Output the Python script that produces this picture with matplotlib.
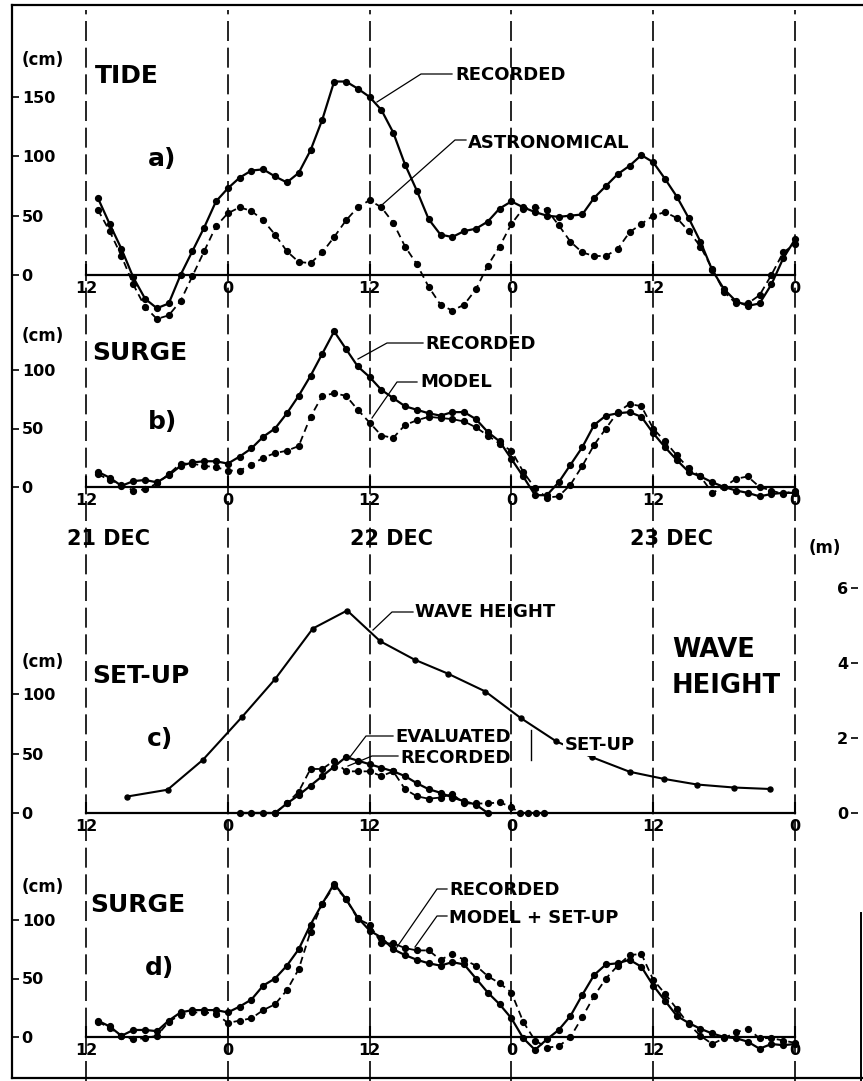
import matplotlib
matplotlib.use('Agg')
import matplotlib.pyplot as plt

plt.rcParams['font.family'] = ['DejaVu Sans']
plt.rcParams['font.weight'] = 'bold'

W, H, DPI = 863, 1081, 100

# ---------------- data (time in hours from 21 Dec 12h) ----------------
hours = list(range(1, 61))
day_ticks = [0, 12, 24, 36, 48, 60]
day_tick_labels = ['12', '0', '12', '0', '12', '0']

tide_recorded = [65, 43, 22, -2, -20, -28, -24, 0, 20, 40,
                 62, 73, 82, 88, 89, 83, 78, 86, 105, 131,
                 163, 163, 157, 150, 139, 120, 93, 71, 47, 34,
                 32, 37, 39, 45, 56, 62, 57, 53, 50, 49,
                 50, 51, 65, 75, 85, 92, 101, 95, 81, 66,
                 48, 28, 4, -12, -22, -26, -24, -8, 14, 30]
tide_astronomical = [55, 37, 16, -8, -27, -37, -34, -22, -1, 20,
                     41, 52, 57, 54, 46, 34, 20, 11, 10, 19,
                     32, 46, 57, 63, 57, 44, 24, 9, -10, -25,
                     -30, -25, -12, 8, 24, 43, 56, 57, 55, 42,
                     28, 19, 16, 16, 22, 36, 43, 50, 53, 48,
                     37, 24, 5, -14, -24, -24, -17, 0, 19, 26]

surge_recorded_b = [13, 8, 1, 5, 6, 4, 10, 18, 21, 22,
                    22, 20, 26, 33, 43, 50, 63, 78, 95, 114,
                    133, 118, 103, 94, 83, 76, 69, 66, 63, 61,
                    64, 64, 58, 47, 39, 24, 9, -7, -7, 4,
                    19, 34, 53, 61, 63, 64, 60, 46, 34, 23,
                    13, 9, 4, 0, -3, -5, -8, -6, -5, -5]
surge_model_b = [11, 6, 2, -3, -2, 3, 11, 20, 20, 18,
                 17, 14, 14, 19, 25, 29, 31, 35, 60, 78,
                 80, 78, 66, 55, 44, 42, 53, 57, 60, 59,
                 58, 56, 51, 44, 37, 31, 13, -1, -9, -8,
                 2, 18, 36, 50, 64, 71, 69, 50, 39, 27,
                 16, 9, -5, 0, 7, 9, 0, -3, -6, -3]

wave_time = [3.5, 6.9, 9.9, 13.2, 16.0, 19.2, 22.1, 24.9, 27.8, 30.6,
             33.8, 36.8, 39.8, 42.8, 46.0, 48.9, 51.7, 54.8, 57.9]
wave_height_m = [0.44, 0.62, 1.42, 2.56, 3.57, 4.92, 5.40, 4.58, 4.09, 3.72,
                 3.24, 2.53, 1.91, 1.49, 1.10, 0.91, 0.76, 0.68, 0.64]

setup_eval_time = list(range(13, 35))
setup_evaluated = [0, 0, 0, 0, 8, 15, 23, 31, 39, 47,
                   44, 41, 38, 35, 31, 25, 20, 17, 13, 10, 7, 0]
setup_rec_time = [16, 17, 18, 19, 20, 21, 22, 23, 24, 25, 26, 27, 28, 29,
                  30, 31, 32, 33, 34, 35, 36, 36.7, 37.4, 38.1, 38.8]
setup_recorded = [0, 8, 18, 37, 37, 44, 35, 35, 35, 31, 35, 20, 14, 12,
                  13, 16, 8, 8, 8, 9, 5, 0, 0, 0, 0]

surge_recorded_d = [14, 9, 1, 6, 6, 5, 14, 21, 23, 23,
                    23, 21, 26, 32, 44, 50, 61, 75, 96, 114,
                    131, 118, 102, 91, 85, 75, 70, 66, 63, 61,
                    64, 62, 50, 38, 28, 16, -1, -11, -2, 6,
                    18, 36, 53, 62, 63, 66, 60, 44, 31, 18,
                    12, 7, 3, 0, -1, -4, -10, -6, -7, -6]
surge_model_setup_d = [13, 8, 1, -2, -1, 1, 13, 19, 21, 21,
                       20, 12, 14, 16, 23, 28, 40, 58, 90, 114,
                       129, 118, 101, 96, 80, 80, 76, 74, 74, 66,
                       71, 66, 61, 52, 46, 38, 13, -3, -9, -8,
                       0, 17, 35, 50, 61, 70, 71, 49, 37, 24,
                       11, 1, -6, -1, 4, 7, -1, -1, -3, -5]

# ---------------- geometry ----------------
T0_PX = 86.0
PX_PER_H = (795.0 - 86.0) / 60.0
LEFT_PX, RIGHT_PX = 12.0, 858.0


def t_at(px):
    return (px - T0_PX) / PX_PER_H


fig = plt.figure(figsize=(W / DPI, H / DPI), dpi=DPI)

# pixel-space background (frame, leaders)
bg = fig.add_axes([0, 0, 1, 1])
bg.set_xlim(0, W)
bg.set_ylim(H, 0)
bg.axis('off')
bg.patch.set_visible(False)
K = 'black'
bg.plot([12, 12], [5, 1078], color=K, lw=1.6)
bg.plot([12, 863], [5, 5], color=K, lw=1.6)
bg.plot([12, 863], [1078, 1078], color=K, lw=1.6)
bg.plot([861, 861], [913, 1081], color=K, lw=1.4)

# time-space background (day/half-day dashed lines)
tb = fig.add_axes([0, 0, 1, 1])
tb.set_xlim(t_at(0), t_at(W))
tb.set_ylim(0, 1)
tb.axis('off')
tb.patch.set_visible(False)
for t in day_ticks:
    tb.axvline(t, ymin=0, ymax=1 - 10.0 / H, color=K, lw=1.2, ls=(0, (12, 4)))


def make_panel(y0, s, lo, hi, yticks):
    bottom = y0 - lo * s
    top = y0 - hi * s
    ax = fig.add_axes([LEFT_PX / W, 1 - bottom / H, (RIGHT_PX - LEFT_PX) / W, (bottom - top) / H])
    ax.set_xlim(t_at(LEFT_PX), t_at(RIGHT_PX))
    ax.set_ylim(lo, hi)
    ax.patch.set_visible(False)
    for sp in ['top', 'right', 'left']:
        ax.spines[sp].set_visible(False)
    ax.spines['bottom'].set_position(('data', 0))
    ax.spines['bottom'].set_bounds(0, 60)
    ax.spines['bottom'].set_linewidth(1.6)
    ax.set_xticks(day_ticks)
    ax.set_xticklabels(day_tick_labels)
    ax.tick_params(axis='x', direction='in', length=8, width=1.5, pad=4, labelsize=11.5)
    ax.set_yticks(yticks)
    ax.set_yticklabels([str(v) for v in yticks])
    ax.tick_params(axis='y', direction='in', length=5, width=1.2, pad=-7, labelsize=11.5)
    plt.setp(ax.get_yticklabels(), ha='left')
    return ax


solid = dict(color=K, lw=1.6, marker='o', ms=4.2, ls='-')
dashed = dict(color=K, lw=1.3, marker='o', ms=4.2, ls=(0, (4, 2.5)))

# a) tide
ax_a = make_panel(275, 1.187, -42, 175, [0, 50, 100, 150])
ax_a.plot(hours, tide_astronomical, **dashed)
ax_a.plot(hours, tide_recorded, **solid)

# b) surge
ax_b = make_panel(487, 1.17, -15, 140, [0, 50, 100])
ax_b.plot(hours, surge_model_b, **dashed)
ax_b.plot(hours, surge_recorded_b, **solid)

# c) set-up + wave height
ax_c = make_panel(813, 1.19, -5, 230, [0, 50, 100])
ax_c.plot(setup_rec_time, setup_recorded, **dashed)
ax_c.plot(setup_eval_time, setup_evaluated, **solid)
CM_PER_M = 37.5 / 1.19
ax_w = ax_c.twinx()
ax_w.set_ylim(-5 / CM_PER_M, 230 / CM_PER_M)
for sp in ax_w.spines.values():
    sp.set_visible(False)
ax_w.set_yticks([0, 2, 4, 6])
ax_w.set_yticklabels(['0', '2', '4', '6'])
ax_w.tick_params(axis='y', direction='in', length=5, width=1.2, pad=-7.2, labelsize=11.5)
plt.setp(ax_w.get_yticklabels(), ha='right')
ax_w.plot(wave_time, wave_height_m, color=K, lw=1.5, marker='o', ms=3.6)

# d) surge with set-up
ax_d = make_panel(1037, 1.17, -15, 140, [0, 50, 100])
ax_d.plot(hours, surge_model_setup_d, **dashed)
ax_d.plot(hours, surge_recorded_d, **solid)


# ---------------- texts ----------------
def label(x, y, s, size, **kw):
    fig.text(x / W, 1 - y / H, s, fontsize=size, ha='left', va='baseline', **kw)


BIG, MID, SMALL = 18, 15, 13
for yb in (65, 341, 667, 892):
    label(22, yb, '(cm)', 12)
label(95, 83, 'TIDE', BIG)
label(148, 166, 'a)', BIG)
label(92, 360, 'SURGE', BIG)
label(148, 429, 'b)', BIG)
label(92, 683, 'SET-UP', BIG)
label(147, 746, 'c)', BIG)
label(90, 912, 'SURGE', BIG)
label(145, 975, 'd)', BIG)
label(67, 545, '21 DEC', MID)
label(350, 545, '22 DEC', MID)
label(630, 545, '23 DEC', MID)
label(672, 657, 'WAVE', 18.5)
label(672, 693, 'HEIGHT', 18.5)
label(809, 553, '(m)', 12)

label(455, 80.5, 'RECORDED', SMALL)
label(468, 148, 'ASTRONOMICAL', SMALL)
label(425, 349, 'RECORDED', SMALL)
label(420, 387, 'MODEL', SMALL)
label(415, 617, 'WAVE HEIGHT', SMALL)
label(395, 742, 'EVALUATED', SMALL)
label(400, 763, 'RECORDED', SMALL)
label(565, 750, 'SET-UP', SMALL,
      bbox=dict(facecolor='white', edgecolor='none', pad=1.5), zorder=10)
label(449, 895, 'RECORDED', SMALL)
label(449, 923, 'MODEL + SET-UP', SMALL)

# leader lines (pixel space)
leaders = [
    ([377, 421, 452], [102, 74, 74]),
    ([383, 455, 466], [204, 140, 140]),
    ([358, 387, 423], [359, 343, 343]),
    ([372, 397, 417], [418, 382, 382]),
    ([373, 392, 413], [630, 612, 612]),
    ([350, 366, 393], [757, 736, 736]),
    ([348, 372, 398], [766, 756, 756]),
    ([397, 437, 447], [947, 889, 889]),
    ([415, 437, 447], [947, 916, 916]),
]
for xs, ys in leaders:
    bg.plot(xs, ys, color=K, lw=0.9)
bg.plot([531, 531], [730, 760], color=K, lw=1.0)

fig.savefig('out.png', dpi=DPI)
